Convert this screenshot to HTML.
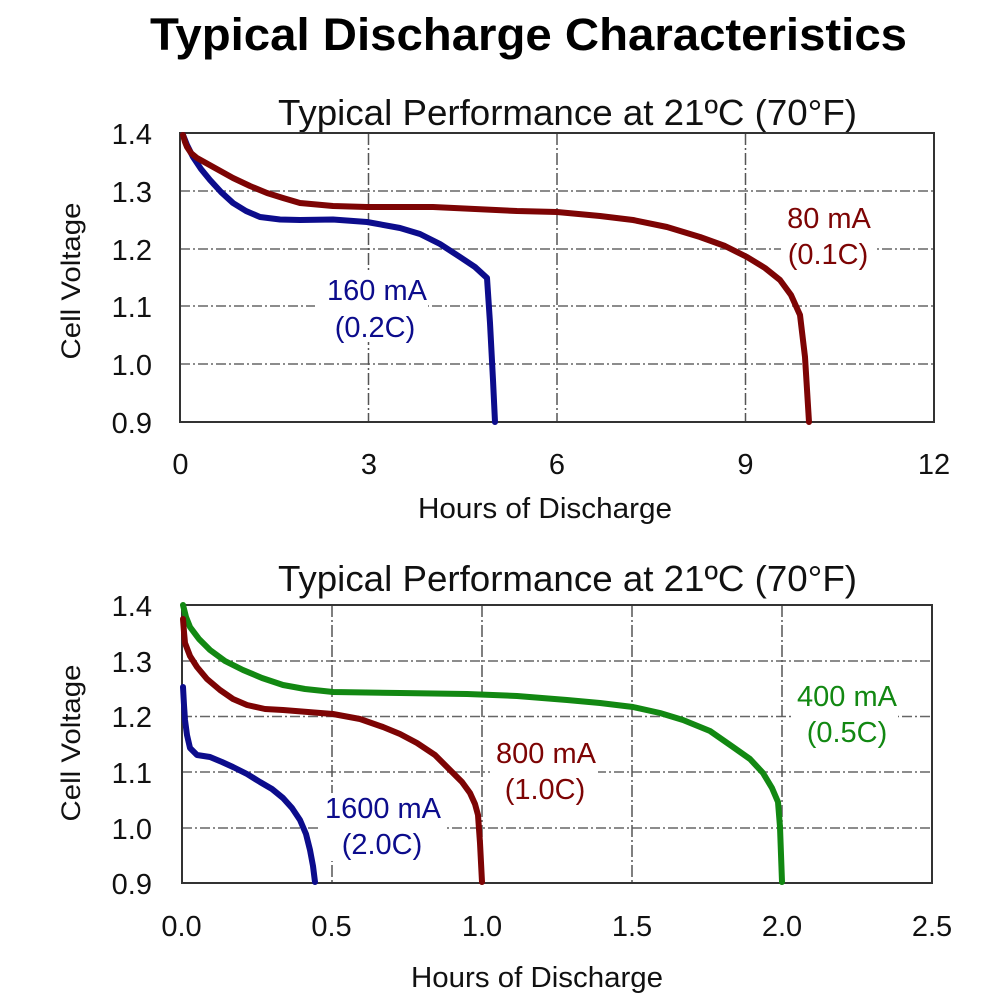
<!DOCTYPE html>
<html><head><meta charset="utf-8"><style>
html,body{margin:0;padding:0;background:#fff;}
svg{display:block;}
text{font-family:"Liberation Sans",Tahoma,Verdana,sans-serif;}
</style></head><body>
<svg width="1000" height="1000" viewBox="0 0 1000 1000" xmlns="http://www.w3.org/2000/svg">
<rect width="1000" height="1000" fill="#fff"/>
<text x="150" y="50" font-size="45" font-weight="bold" fill="#000" textLength="757" lengthAdjust="spacingAndGlyphs">Typical Discharge Characteristics</text>

<!-- TOP CHART -->
<text x="278" y="125" font-size="36" fill="#111" textLength="579" lengthAdjust="spacingAndGlyphs">Typical Performance at 21ºC (70°F)</text>
<g stroke="#666" stroke-width="1.5" stroke-dasharray="10,3,2,3" fill="none">
<line x1="180" y1="191" x2="934" y2="191"/>
<line x1="180" y1="249" x2="934" y2="249"/>
<line x1="180" y1="306" x2="934" y2="306"/>
<line x1="180" y1="364" x2="934" y2="364"/>
</g>
<g stroke="#555" stroke-width="1.5" stroke-dasharray="12,3,2,3" fill="none">
<line x1="368.5" y1="133" x2="368.5" y2="422"/>
<line x1="557" y1="133" x2="557" y2="422"/>
<line x1="745.5" y1="133" x2="745.5" y2="422"/>
</g>
<rect x="315" y="272" width="113" height="70" fill="#fff"/>
<rect x="781" y="200" width="95" height="72" fill="#fff"/>
<rect x="180" y="133" width="754" height="289" fill="none" stroke="#333" stroke-width="2"/>
<g fill="none" stroke-width="6" stroke-linejoin="round" stroke-linecap="round">
<polyline stroke="#0c0c8c" points="183,135 187,145 193,157 201,169 210,180 221,192 233,203 246,211 260,217 280,219.5 300,220 333,219.5 367,222 400,228 420,234 440,244 460,257 475,267 487,278 490,323 493,380 495,422"/>
<polyline stroke="#7d0404" points="183,135 185,142 187,147 191,153 197,158 215,168 233,178 250,186 267,193 283,198 300,203 333,206 367,207 433,207 517,211 557,212 600,216 633,220 667,227 700,237 725,246 747,257 765,268 780,280 791,295 800,315 805,357 809,422"/>
</g>
<g font-size="29" fill="#111" text-anchor="end">
<text x="152" y="144">1.4</text>
<text x="152" y="202">1.3</text>
<text x="152" y="260">1.2</text>
<text x="152" y="317">1.1</text>
<text x="152" y="375">1.0</text>
<text x="152" y="433">0.9</text>
</g>
<g font-size="29" fill="#111" text-anchor="middle">
<text x="180.5" y="474">0</text>
<text x="369" y="474">3</text>
<text x="557" y="474">6</text>
<text x="745.5" y="474">9</text>
<text x="934" y="474">12</text>
</g>
<text x="545" y="518" font-size="29" fill="#111" text-anchor="middle" textLength="254" lengthAdjust="spacingAndGlyphs">Hours of Discharge</text>
<text transform="translate(80,281) rotate(-90)" font-size="27" fill="#111" text-anchor="middle" textLength="157" lengthAdjust="spacingAndGlyphs">Cell Voltage</text>
<g font-size="29" text-anchor="middle">
<text x="377" y="300" fill="#0c0c8c">160 mA</text>
<text x="375" y="337" fill="#0c0c8c">(0.2C)</text>
<text x="829" y="228" fill="#7d0404">80 mA</text>
<text x="828" y="264" fill="#7d0404">(0.1C)</text>
</g>

<!-- BOTTOM CHART -->
<text x="278" y="591" font-size="36" fill="#111" textLength="579" lengthAdjust="spacingAndGlyphs">Typical Performance at 21ºC (70°F)</text>
<g stroke="#666" stroke-width="1.5" stroke-dasharray="10,3,2,3" fill="none">
<line x1="182" y1="661" x2="932" y2="661"/>
<line x1="182" y1="716.5" x2="932" y2="716.5"/>
<line x1="182" y1="772" x2="932" y2="772"/>
<line x1="182" y1="828" x2="932" y2="828"/>
</g>
<g stroke="#555" stroke-width="1.5" stroke-dasharray="12,3,2,3" fill="none">
<line x1="332" y1="605" x2="332" y2="883"/>
<line x1="482" y1="605" x2="482" y2="883"/>
<line x1="632" y1="605" x2="632" y2="883"/>
<line x1="782" y1="605" x2="782" y2="883"/>
</g>
<rect x="793" y="680" width="105" height="70" fill="#fff"/>
<rect x="490" y="735" width="108" height="70" fill="#fff"/>
<rect x="319" y="793" width="125" height="68" fill="#fff"/>
<rect x="182" y="605" width="750" height="278" fill="none" stroke="#333" stroke-width="2"/>
<g fill="none" stroke-width="6" stroke-linejoin="round" stroke-linecap="round">
<polyline stroke="#128812" points="183,605 186,617 190,627 199,639 210,650 225,661 243,670 262,678 283,685 305,689 333,692 400,693 467,694 517,696 567,700 600,703 633,707 660,713 683,720 710,731 733,747 750,759 763,773 772,788 778,802 780,827 782,882"/>
<polyline stroke="#7d0404" points="183,619 184,632 185,643 190,656 197,667 207,679 220,690 233,699 247,705 265,709 283,710 333,714 360,719 383,727 400,734 417,743 435,755 450,770 462,782 470,793 475,804 478,815 480,843 482,882"/>
<polyline stroke="#0c0c8c" points="183,687 184,705 185,720 187,735 190,748 197,755 210,757 222,762 233,767 247,774 260,782 272,789 283,798 292,808 300,820 306,834 310,850 313,866 315,882"/>
</g>
<g font-size="29" fill="#111" text-anchor="end">
<text x="152" y="616">1.4</text>
<text x="152" y="672">1.3</text>
<text x="152" y="727">1.2</text>
<text x="152" y="783">1.1</text>
<text x="152" y="839">1.0</text>
<text x="152" y="894">0.9</text>
</g>
<g font-size="29" fill="#111" text-anchor="middle">
<text x="181.5" y="936">0.0</text>
<text x="331.5" y="936">0.5</text>
<text x="482" y="936">1.0</text>
<text x="632" y="936">1.5</text>
<text x="782" y="936">2.0</text>
<text x="932" y="936">2.5</text>
</g>
<text x="537" y="987" font-size="29" fill="#111" text-anchor="middle" textLength="252" lengthAdjust="spacingAndGlyphs">Hours of Discharge</text>
<text transform="translate(80,743) rotate(-90)" font-size="27" fill="#111" text-anchor="middle" textLength="157" lengthAdjust="spacingAndGlyphs">Cell Voltage</text>
<g font-size="29" text-anchor="middle">
<text x="847" y="706" fill="#128812">400 mA</text>
<text x="847" y="742" fill="#128812">(0.5C)</text>
<text x="546" y="763" fill="#7d0404">800 mA</text>
<text x="545" y="799" fill="#7d0404">(1.0C)</text>
<text x="383" y="818" fill="#0c0c8c">1600 mA</text>
<text x="382" y="854" fill="#0c0c8c">(2.0C)</text>
</g>
</svg>
</body></html>
